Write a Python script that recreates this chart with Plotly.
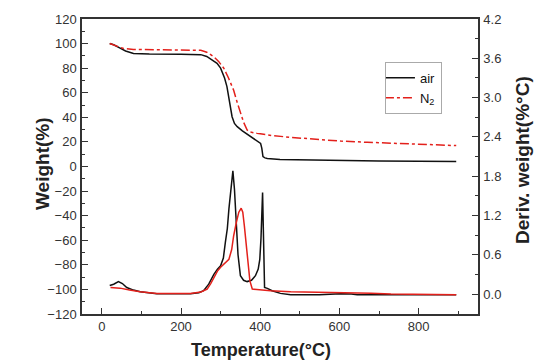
import plotly.graph_objects as go

# Weight (%) curves, left axis
air_w_T = [20, 30, 45, 60, 80, 120, 200, 250, 265, 280, 291, 300, 310, 316, 322, 329, 335, 342, 355, 371, 390, 401, 404, 407, 412, 418, 450, 500, 600, 640, 700, 800, 895]
air_w = [100, 99, 96.5, 94, 92, 91.5, 91.3, 91, 89.5, 86.5, 84, 80, 72, 65, 55, 40.5, 35, 32.4, 29, 25.6, 21.5, 18.8, 15, 8, 7, 6.6, 5.6, 5.3, 5.2, 4.6, 4.5, 4.3, 4]

n2_w_T = [20, 35, 55, 80, 150, 250, 265, 283, 295, 308, 320, 333, 342, 350, 358, 367, 375, 392, 430, 477, 540, 603, 670, 730, 800, 856, 895]
n2_w = [100, 98.5, 96, 95.2, 95, 94.5, 93, 89.3, 85.5, 80, 72, 62, 52, 43.3, 36, 29.7, 28, 27, 25.2, 23.7, 22, 20.7, 19.7, 18.8, 18, 17.5, 17]

# Derivative weight (%/°C) curves, right axis
air_d_T = [20, 30, 42, 52, 63, 80, 97, 139, 224, 245, 257, 270, 283, 292, 300, 307, 312, 317, 321, 326, 331, 335, 339, 344, 350, 358, 367, 378, 388, 395, 399, 402, 406, 408, 411, 418, 430, 451, 477, 550, 603, 630, 645, 750, 895]
air_d = [0.13, 0.15, 0.19, 0.16, 0.10, 0.06, 0.035, 0.005, 0.005, 0.02, 0.05, 0.15, 0.30, 0.38, 0.43, 0.55, 0.79, 1.0, 1.30, 1.6, 1.88, 1.6, 1.04, 0.6, 0.28, 0.21, 0.19, 0.21, 0.28, 0.38, 0.53, 0.85, 1.55, 1.0, 0.10, 0.087, 0.05, 0.01, -0.01, -0.01, 0.005, 0.0, -0.01, -0.01, -0.01]

n2_d_T = [22, 35, 46, 70, 97, 139, 224, 250, 266, 275, 283, 292, 300, 310, 321, 328, 333, 340, 346, 352, 356, 360, 365, 369, 374, 380, 400, 426, 477, 550, 620, 680, 730, 800, 895]
n2_d = [0.10, 0.10, 0.09, 0.06, 0.035, 0.008, 0.008, 0.03, 0.076, 0.16, 0.25, 0.35, 0.41, 0.47, 0.53, 0.68, 0.89, 1.1, 1.25, 1.31, 1.25, 1.04, 0.7, 0.43, 0.2, 0.076, 0.06, 0.05, 0.035, 0.03, 0.025, 0.01, 0.0, -0.005, -0.01]

BLACK = "#111111"
RED = "#e3201b"
FONT = "Liberation Sans, Arial, sans-serif"

fig = go.Figure()
fig.add_trace(go.Scatter(x=air_w_T, y=air_w, mode="lines", name="air",
                         line=dict(color=BLACK, width=1.5), yaxis="y"))
fig.add_trace(go.Scatter(x=n2_w_T, y=n2_w, mode="lines", name="N<sub>2</sub>",
                         line=dict(color=RED, width=1.5, dash="dashdot"), yaxis="y"))
fig.add_trace(go.Scatter(x=air_d_T, y=air_d, mode="lines", showlegend=False,
                         line=dict(color=BLACK, width=1.5), yaxis="y2"))
fig.add_trace(go.Scatter(x=n2_d_T, y=n2_d, mode="lines", showlegend=False,
                         line=dict(color=RED, width=1.5), yaxis="y2"))

axcol = "#333333"
fig.update_layout(
    template="none",
    width=547, height=363,
    margin=dict(l=82, r=69, t=19, b=49, autoexpand=False),
    paper_bgcolor="white", plot_bgcolor="white",
    font=dict(family=FONT, size=13, color=axcol),
    xaxis=dict(range=[-50, 950], tick0=0, dtick=200, ticks="inside", ticklen=6,
               tickcolor=axcol, showline=True, linecolor=axcol, linewidth=1.5,
               mirror=True, showgrid=False, zeroline=False, automargin=False,
               minor=dict(dtick=100, tick0=0, ticks="inside", ticklen=3, tickcolor=axcol)),
    yaxis=dict(range=[-120, 120], tick0=0, dtick=20, ticks="inside", ticklen=6,
               tickcolor=axcol, showline=True, linecolor=axcol, linewidth=1.5,
               showgrid=False, zeroline=False, ticklabelstandoff=1, automargin=False,
               minor=dict(dtick=10, tick0=0, ticks="inside", ticklen=3, tickcolor=axcol)),
    yaxis2=dict(range=[-0.305, 4.2], tick0=0, dtick=0.6, tickformat=".1f",
                ticks="inside", ticklen=6, tickcolor=axcol, overlaying="y", side="right",
                showline=True, linecolor=axcol, linewidth=1.5, showgrid=False,
                zeroline=False, ticklabelstandoff=1, automargin=False,
                minor=dict(dtick=0.3, tick0=0, ticks="inside", ticklen=3, tickcolor=axcol)),
    legend=dict(x=0.765, y=0.855, xanchor="left", yanchor="top",
                bordercolor="#aaaaaa", borderwidth=1, bgcolor="white",
                font=dict(family=FONT, size=13, color="#111111"),
                tracegroupgap=0, itemwidth=30, indentation=-6),
    showlegend=True,
)

fig.add_annotation(text="<b>Weight(%)</b>", xref="paper", yref="paper",
                   x=(42 - 82) / 396, y=(314 - 164) / 295, showarrow=False,
                   textangle=-90, font=dict(family=FONT, size=19, color="#222222"),
                   xanchor="center", yanchor="middle")
fig.add_annotation(text="<b>Deriv. weight(%°C)</b>", xref="paper", yref="paper",
                   x=(522 - 82) / 396, y=(314 - 160) / 295, showarrow=False,
                   textangle=-90, font=dict(family=FONT, size=19, color="#222222"),
                   xanchor="center", yanchor="middle")
fig.add_annotation(text="<b>Temperature(°C)</b>", xref="paper", yref="paper",
                   x=(261 - 82) / 396, y=-(350 - 314) / 295, showarrow=False,
                   font=dict(family=FONT, size=18, color="#222222"),
                   xanchor="center", yanchor="middle")

fig.write_html("out.html", config={"displayModeBar": False},
               post_script="document.body.style.margin='0';document.body.style.overflow='hidden';")
